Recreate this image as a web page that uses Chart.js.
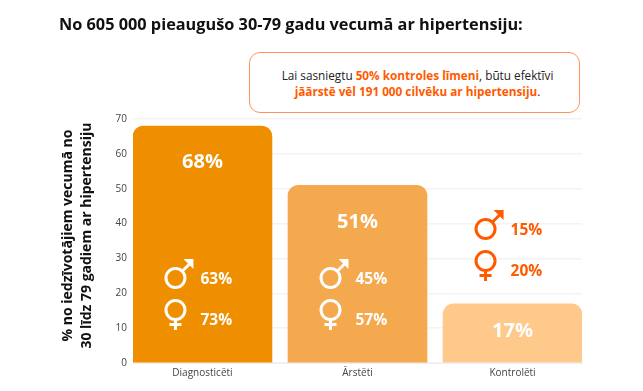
<!DOCTYPE html>
<html lang="lv">
<head>
<meta charset="utf-8">
<title>Hipertensija</title>
<script src="https://cdn.jsdelivr.net/npm/chart.js@4"></script>
<style>
  html, body { margin: 0; padding: 0; background: #fff; }
  body { position: relative; width: 643px; height: 391px; overflow: hidden; font-family: "Open Sans", sans-serif; }
  #wrap { position: absolute; left: 0; top: 0; width: 643px; height: 391px; }
  h1 { position: absolute; left: 59px; top: 13px; margin: 0; font-size: 16.3px; line-height: 22px; font-weight: 700; color: #111; white-space: nowrap; }
  #note { position: absolute; left: 249px; top: 52px; width: 323px; height: 45px; border: 1.5px solid #ff9359; border-radius: 11px;
    text-align: center; font-size: 11.75px; line-height: 16px; color: #222; padding: 14px 0 0 6px; background: #fff; }
  #note b { color: #ff5a00; font-weight: 700; }
</style>
</head>
<body>
<div id="wrap"><canvas id="grafiks" width="643" height="391"></canvas></div>
<h1>No 605 000 pieaugušo 30-79 gadu vecumā ar hipertensiju:</h1>
<div id="note">Lai sasniegtu <b>50% kontroles līmeni</b>, būtu efektīvi<br><b>jāārstē vēl 191 000 cilvēku ar hipertensiju</b>.</div>
<script>
const categories = ["Diagnosticēti", "Ārstēti", "Kontrolēti"];
const totalValues = [68, 51, 17];
const maleValues = [63, 45, 15];
const femaleValues = [73, 57, 20];
const yTicks = [0, 10, 20, 30, 40, 50, 60, 70];
const barColors = ["#ef8f00", "#f5a94e", "#ffc98b"];

const ORANGE = "#ff5a00";
const FONT = '"Open Sans", sans-serif';

// kur likt uzrakstus (pikseļi no augšas)
const totalLabelY = [162, 222, 331];
const genderRowY = [278, 278, 229];
const genderColor = ["#fff", "#fff", ORANGE];

function drawMale(c, x, y, color) {
  c.strokeStyle = color;
  c.fillStyle = color;
  c.lineWidth = 3;
  c.beginPath();
  c.arc(x, y, 9.5, 0, Math.PI * 2);
  c.stroke();
  c.beginPath();
  c.moveTo(x + 7, y - 7);
  c.lineTo(x + 15, y - 15);
  c.stroke();
  c.beginPath();
  c.moveTo(x + 8, y - 19);
  c.lineTo(x + 18, y - 19);
  c.lineTo(x + 18, y - 9);
  c.closePath();
  c.fill();
}

function drawFemale(c, x, y, color) {
  c.strokeStyle = color;
  c.lineWidth = 3;
  c.beginPath();
  c.arc(x, y, 9.5, 0, Math.PI * 2);
  c.stroke();
  c.beginPath();
  c.moveTo(x, y + 10);
  c.lineTo(x, y + 20);
  c.moveTo(x - 6, y + 14.5);
  c.lineTo(x + 6, y + 14.5);
  c.stroke();
}

const labelsPlugin = {
  id: "uzraksti",
  afterDatasetsDraw(chart) {
    const c = chart.ctx;
    const x = chart.scales.x;
    c.save();
    c.textBaseline = "middle";
    categories.forEach((name, i) => {
      const cx = x.getPixelForValue(i);
      const y0 = genderRowY[i];
      c.textAlign = "center";
      c.fillStyle = "#fff";
      c.font = "700 20px " + FONT;
      c.fillText(totalValues[i] + "%", cx, totalLabelY[i]);

      drawMale(c, cx - 27, y0, genderColor[i]);
      drawFemale(c, cx - 27, y0 + 32, genderColor[i]);

      c.textAlign = "left";
      c.fillStyle = genderColor[i];
      c.font = "700 15.5px " + FONT;
      c.fillText(maleValues[i] + "%", cx - 2, y0 + 1.5);
      c.fillText(femaleValues[i] + "%", cx - 2, y0 + 42.5);
    });
    c.restore();
  }
};

const grafiks = new Chart(document.getElementById("grafiks"), {
  type: "bar",
  data: {
    datasets: [{
      data: totalValues.map((v, i) => ({ x: i, y: v })),
      backgroundColor: barColors,
      borderRadius: { topLeft: 11, topRight: 11 },
      borderSkipped: "bottom",
      barThickness: 139
    }]
  },
  options: {
    responsive: false,
    animation: false,
    layout: { padding: { left: 58, right: 61, top: 119, bottom: 8 } },
    plugins: { legend: { display: false }, tooltip: { enabled: false } },
    scales: {
      x: {
        type: "linear",
        offset: false,
        min: -0.448,
        max: 2.448,
        afterBuildTicks(s) { s.ticks = categories.map((_, i) => ({ value: i })); },
        ticks: {
          callback: v => categories[v],
          color: "#444",
          font: { family: FONT, size: 10 },
          padding: 4,
          maxRotation: 0
        },
        grid: { display: false, drawTicks: false },
        border: { color: "#eeeeee", width: 1 }
      },
      y: {
        min: 0,
        max: 70,
        afterBuildTicks(s) { s.ticks = yTicks.map(v => ({ value: v })); },
        afterFit(s) { s.width = 133 - 58; },
        ticks: { color: "#444", font: { family: FONT, size: 10 }, padding: 6 },
        grid: { color: "#f3f3f3", lineWidth: 1.5, drawTicks: false },
        border: { display: false },
        title: {
          display: true,
          text: ["   % no iedzīvotājiem vecumā no", "   30 līdz 79 gadiem ar hipertensiju"],
          color: "#111",
          font: { family: FONT, size: 14, weight: "700", lineHeight: 1.4 },
          padding: 0
        }
      }
    }
  },
  plugins: [labelsPlugin]
});
</script>
</body>
</html>
